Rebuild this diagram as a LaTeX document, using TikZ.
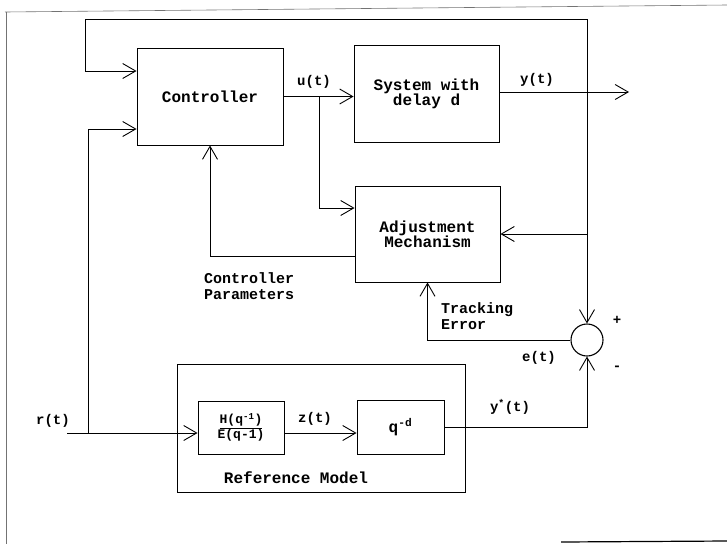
\documentclass[tikz,border=0pt]{standalone}
\usepackage{fontspec}
\setmonofont{Liberation Mono}
\usetikzlibrary{arrows.meta,positioning}

\begin{document}
\begin{tikzpicture}[
  x=1pt, y=-1pt,
  font=\ttfamily\bfseries\fontsize{16}{15}\selectfont,
  box/.style={draw, line width=0.9pt, align=center, inner sep=0pt},
  lbl/.style={font=\ttfamily\bfseries\fontsize{14}{14}\selectfont, inner sep=0pt},
  arr/.style={line width=0.9pt, -{Straight Barb[length=13pt, width=15pt]}},
  ln/.style={line width=0.9pt},
  edge/.style={line width=0.6pt, black!55}
]
\useasboundingbox (0,0) rectangle (727,544);

% --- page frame ---
\draw[edge] (5,12) -- (727,5);
\draw[edge] (6,12) -- (6,544);
\draw[line width=1.2pt] (561,542) -- (727,541);

% --- plant and controller ---
\node[box, minimum width=146pt, minimum height=97pt] (ctrl) at (210,96.5) {Controller};
\node[box, minimum width=145pt, minimum height=97pt] (sys) at (426.5,93.5) {System with\\delay d};
\node[box, minimum width=145pt, minimum height=96pt] (adj) at (427.5,234) {Adjustment\\Mechanism};
\node[draw, circle, line width=1.1pt, minimum size=32pt, inner sep=0pt] (sum) at (587,340) {};

% --- reference model ---
\node[box, minimum width=288pt, minimum height=128pt] (refm) at (321,428) {};
\node[box, minimum width=86pt, minimum height=53pt,
      font=\ttfamily\bfseries\fontsize{13}{13}\selectfont] (hoe) at (241,427.5)
      {\underline{H(q\textsuperscript{-1})}\\E(q-1)};
\node[box, minimum width=87pt, minimum height=54pt] (qd) at (400.5,427) {q\textsuperscript{-d}};
\node (refmtxt) at (296,478) {Reference Model};

\coordinate (rin) at (67,433);
\coordinate (rj) at (88,433);
\coordinate (ub) at (319,96);
\coordinate (yj) at (587,92);
\coordinate (yout) at (629,92);
\coordinate (fbtop) at (85,19);

% --- signals ---
\draw[arr] (ctrl.east) -- (ctrl.east -| sys.west);
\draw[arr] (ub) |- ([yshift=26pt]adj.west);
\draw[arr] (sys.east |- yout) -- (yout);
\draw[arr] (yj) |- (fbtop) |- ([yshift=25.5pt]ctrl.west);
\draw[arr] (yj) |- (adj.east);
\draw[arr] (yj) -- (sum.north);
\draw[arr] (sum.west) -| (adj.south);
\draw[arr] ([yshift=-22pt]adj.west) -| (ctrl.south);
\draw[arr] (rin) -- ([yshift=-5.5pt]hoe.west);
\draw[arr] (rj) |- ([yshift=-32.5pt]ctrl.west);
\draw[arr] ([yshift=-5.5pt]hoe.east) -- ([yshift=-5.5pt]hoe.east -| qd.west);
\draw[arr] (qd.east) -| (sum.south);

% --- labels ---
\node[lbl] (ulbl) at (314,82) {u(t)};
\node[lbl] (ylbl) at (537,80) {y(t)};
\node[lbl] (zlbl) at (315,419) {z(t)};
\node[lbl] (rlbl) at (53,421) {r(t)};
\node[lbl] (ystar) at (510,407) {y\textsuperscript{*}(t)};
\node[lbl] (elbl) at (539,358) {e(t)};
\node[lbl] (plus) at (617,320) {+};
\node[lbl] (minus) at (617,368) {-};
\node[lbl, font=\ttfamily\bfseries\fontsize{15}{16}\selectfont, align=left, anchor=west] (cpar) at (204,286.5) {Controller\\Parameters};
\node[lbl, font=\ttfamily\bfseries\fontsize{15}{16}\selectfont, align=left, anchor=west] (terr) at (441,316.5) {Tracking\\Error};

\end{tikzpicture}
\end{document}
